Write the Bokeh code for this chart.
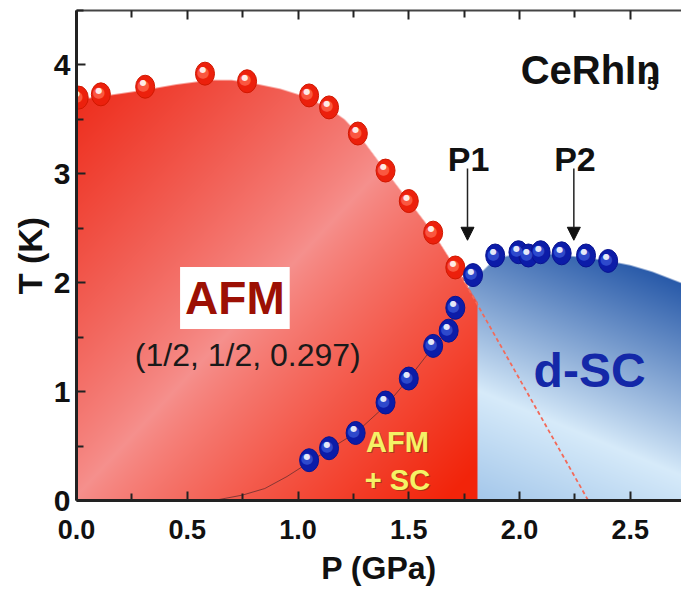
import numpy as np
from bokeh.plotting import figure
from bokeh.models import (Range1d, FixedTicker, LinearAxis, Label, Arrow, NormalHead,
                          ColumnDataSource, PrintfTickFormatter, CustomJSTickFormatter)
from bokeh.core.properties import value
from bokeh.embed import file_html
from bokeh.resources import INLINE

# ---------------- data ----------------
# AFM transition (red spheres)
afm_p = [0.01, 0.11, 0.31, 0.58, 0.77, 1.05, 1.14, 1.27, 1.395, 1.50, 1.61, 1.71]
afm_t = [3.70, 3.73, 3.80, 3.92, 3.85, 3.72, 3.61, 3.37, 3.03, 2.75, 2.46, 2.14]
# superconducting Tc above P1 (blue spheres, dome)
sc_p = [1.79, 1.89, 1.995, 2.04, 2.095, 2.19, 2.30, 2.40]
sc_t = [2.07, 2.25, 2.28, 2.25, 2.28, 2.27, 2.25, 2.20]
# superconducting Tc inside AFM (blue spheres, coexistence)
coex_p = [1.05, 1.14, 1.26, 1.395, 1.50, 1.61, 1.68, 1.71]
coex_t = [0.37, 0.48, 0.62, 0.90, 1.12, 1.42, 1.56, 1.77]
# guide line through coexistence Tc
guide_p = [0.62, 0.75, 0.85, 0.95, 1.05, 1.14, 1.26, 1.40, 1.50, 1.61, 1.68, 1.73]
guide_t = [0.00, 0.05, 0.11, 0.22, 0.35, 0.47, 0.62, 0.88, 1.12, 1.41, 1.57, 1.82]
# extrapolated AFM line (dashed)
dash_p = [1.74, 2.31]
dash_t = [2.05, 0.00]
# AFM phase boundary (red region top) and its right edge P1
afm_bound_p = [0.00, 0.11, 0.31, 0.45, 0.60, 0.70, 0.80, 0.92, 1.03, 1.14, 1.21, 1.27, 1.395, 1.50, 1.61, 1.71, 1.81]
afm_bound_t = [3.68, 3.71, 3.77, 3.82, 3.86, 3.86, 3.83, 3.78, 3.71, 3.60, 3.50, 3.37, 3.03, 2.75, 2.46, 2.14, 1.82]
afm_edge_p = 1.81
# d-SC region top
sc_bound_p = [1.70, 1.76, 1.80, 1.89, 2.00, 2.10, 2.20, 2.30, 2.40, 2.50, 2.60, 2.74]
sc_bound_t = [1.60, 1.93, 2.04, 2.22, 2.27, 2.27, 2.25, 2.23, 2.20, 2.16, 2.10, 1.99]
# P1 / P2 arrows
arrow_p = [1.765, 2.245]
arrow_t0 = [3.05, 3.05]
arrow_t1 = [2.39, 2.39]
arrow_names = ["P1", "P2"]

x_ticks = [0.0, 0.5, 1.0, 1.5, 2.0, 2.5]
x_minor = [0.25, 0.75, 1.25, 1.75, 2.25, 2.75]
y_ticks = [0, 1, 2, 3, 4]
y_minor = [0.5, 1.5, 2.5, 3.5, 4.5]

X_MAX, Y_MAX = 2.731, 4.5
FONT = "Liberation Sans"

p = figure(width=681, height=592, x_range=Range1d(0, X_MAX), y_range=Range1d(0, Y_MAX),
           output_backend="svg", toolbar_location=None,
           min_border_left=76, min_border_right=0, min_border_top=10, min_border_bottom=92)
p.outline_line_color = None
p.grid.visible = False
p.background_fill_color = "white"
p.border_fill_color = "white"

# ---------------- gradient filled regions ----------------
W, H = 605, 490
P = (np.arange(W) + 0.5) / W * X_MAX
T = (np.arange(H) + 0.5) / H * Y_MAX
PP, TT = np.meshgrid(P, T)
dP, dT = X_MAX / W, Y_MAX / H

# red region
rtop = np.interp(PP, afm_bound_p, afm_bound_t)
a_r = np.clip((rtop - TT) / dT + 0.5, 0, 1) * np.clip((afm_edge_p - PP) / dP + 0.5, 0, 1)
sx = PP * (W / X_MAX)
sy = TT * (H / Y_MAX)
d = ((sx - 61) * 250 - (sy - 70) * 233) / 341.7
f = np.clip(np.abs(d) / 275.0, 0, 1) ** 0.85
light = np.array([246, 145, 142])
dark1 = np.array([238, 45, 28])
dark2 = np.array([242, 36, 10])
dark = np.where((d < 0)[..., None], dark1, dark2)
red_rgb = light + (dark - light) * f[..., None]

# blue region
btop = np.interp(PP, sc_bound_p, sc_bound_t, left=-1, right=-1)
a_b = np.clip((btop - TT) / dT + 0.5, 0, 1)
v = ((sx - 414) * 75 + (sy - 105) * 180) / 195.0
bl = np.array([215, 235, 250])
bd = np.array([38, 88, 168])
bm = np.array([160, 196, 233])
tpos = np.clip(v / 180.0, 0, 1) ** 0.95
tneg = np.clip(-v / 110.0, 0, 1)
blue_rgb = np.where((v >= 0)[..., None],
                    bl + (bd - bl) * tpos[..., None],
                    bl + (bm - bl) * tneg[..., None])

alpha = a_r + a_b * (1 - a_r)
safe = np.where(alpha > 0, alpha, 1)
rgb = (red_rgb * a_r[..., None] + blue_rgb * (a_b * (1 - a_r))[..., None]) / safe[..., None]

img = np.zeros((H, W), dtype=np.uint32)
view = img.view(dtype=np.uint8).reshape((H, W, 4))
view[..., 0] = np.clip(rgb[..., 0], 0, 255).astype(np.uint8)
view[..., 1] = np.clip(rgb[..., 1], 0, 255).astype(np.uint8)
view[..., 2] = np.clip(rgb[..., 2], 0, 255).astype(np.uint8)
view[..., 3] = np.clip(alpha * 255, 0, 255).astype(np.uint8)
p.image_rgba(image=[img], x=0, y=0, dw=X_MAX, dh=Y_MAX)

# ---------------- lines ----------------
p.line(guide_p, guide_t, line_color="#6a3030", line_width=1, line_alpha=0.8)
p.line(dash_p, dash_t, line_color="#f26a5a", line_width=1.8, line_dash="4 3")

# ---------------- spheres ----------------
def spheres(xs, ys, base, mid, edge):
    src = ColumnDataSource(dict(x=xs, y=ys, s=["\u25cf"] * len(xs)))
    p.ellipse("x", "y", width=19, height=23, width_units="screen", height_units="screen",
              source=src, fill_color=base, line_color=edge, line_width=1)
    p.text("x", "y", text="s", source=src, text_color=mid, text_alpha=0.75,
           text_font_size="15px", text_align="center", text_baseline="middle",
           x_offset=-2, y_offset=-2, text_font=value("DejaVu Sans"))
    p.text("x", "y", text="s", source=src, text_color="white", text_alpha=0.9,
           text_font_size="8px", text_align="center", text_baseline="middle",
           x_offset=-2, y_offset=-4, text_font=value("DejaVu Sans"))

spheres(afm_p, afm_t, "#ec200c", "#ff6a52", "#d01800")
spheres(sc_p, sc_t, "#0c1ca8", "#3a58d8", "#0a1490")
spheres(coex_p, coex_t, "#0c1ca8", "#3a58d8", "#0a1490")

# ---------------- arrows ----------------
asrc = ColumnDataSource(dict(x=arrow_p, y0=arrow_t0, y1=arrow_t1))
p.add_layout(Arrow(x_start="x", y_start="y0", x_end="x", y_end="y1", source=asrc,
                   line_color="#222222", line_width=1.5,
                   end=NormalHead(size=13, fill_color="#111111", line_color="#111111")))
lsrc = ColumnDataSource(dict(x=[a + 0.005 for a in arrow_p], y=[3.14, 3.14], t=arrow_names))
p.text("x", "y", text="t", source=lsrc, text_font=value(FONT), text_font_style="bold",
       text_font_size="34px", text_align="center", text_baseline="alphabetic", text_color="#111111")

# ---------------- texts ----------------
p.add_layout(Label(x=2.005, y=3.95, text="CeRhIn", text_font=FONT, text_font_style="bold",
                   text_font_size="40px", text_color="#111111", text_baseline="alphabetic"))
p.add_layout(Label(x=2.575, y=3.83, text="5", text_font=FONT, text_font_style="bold",
                   text_font_size="19px", text_color="#111111", text_baseline="alphabetic"))
p.add_layout(Label(x=0.715, y=1.86, text="AFM", text_font=FONT, text_font_style="bold",
                   text_font_size="46px", text_color="#9c1004", text_align="center",
                   text_baseline="middle", background_fill_color="white", padding=5))
p.add_layout(Label(x=0.773, y=1.34, text="(1/2, 1/2, 0.297)", text_font=FONT,
                   text_font_size="32px", text_color="#1a1a1a", text_align="center",
                   text_baseline="middle"))
p.add_layout(Label(x=2.316, y=1.19, text="d-SC", text_font=FONT, text_font_style="bold",
                   text_font_size="48px", text_color="#1428a8", text_align="center",
                   text_baseline="middle"))
# shadow + yellow text for the coexistence label
p.add_layout(Label(x=1.449, y=0.36, text="AFM\n+ SC", text_font=FONT, text_font_style="bold",
                   text_font_size="29px", text_color="#6a3a10", text_alpha=0.55,
                   text_align="center", text_baseline="middle", x_offset=1, y_offset=-1))
p.add_layout(Label(x=1.449, y=0.36, text="AFM\n+ SC", text_font=FONT, text_font_style="bold",
                   text_font_size="29px", text_color="#f4f266", text_align="center",
                   text_baseline="middle"))

# ---------------- axes ----------------
def style(ax, ticks, minor):
    ax.ticker = FixedTicker(ticks=ticks, minor_ticks=minor)
    ax.major_tick_in = 9
    ax.major_tick_out = 0
    ax.minor_tick_in = 7
    ax.minor_tick_out = 0
    ax.major_tick_line_width = 2
    ax.minor_tick_line_width = 2
    ax.major_tick_line_color = "#222222"
    ax.minor_tick_line_color = "#222222"
    ax.axis_line_color = "#222222"

xa = p.xaxis[0]
style(xa, x_ticks, x_minor)
xa.axis_line_width = 3
xa.formatter = PrintfTickFormatter(format="%.1f")
xa.major_label_text_font = FONT
xa.major_label_text_font_style = "bold"
xa.major_label_text_font_size = "27px"
xa.major_label_text_color = "#111111"
xa.major_label_standoff = 19
xa.axis_label = "P (GPa)"
xa.axis_label_text_font = FONT
xa.axis_label_text_font_style = "bold"
xa.axis_label_text_font_size = "32px"
xa.axis_label_text_color = "#111111"
xa.axis_label_standoff = 8

ya = p.yaxis[0]
style(ya, y_ticks, y_minor)
ya.axis_line_width = 3
ya.major_label_text_font = FONT
ya.major_label_text_font_style = "bold"
ya.major_label_text_font_size = "30px"
ya.major_label_text_color = "#111111"
ya.major_label_standoff = 6
ya.axis_label = "T (K)"
ya.axis_label_text_font = FONT
ya.axis_label_text_font_style = "bold"
ya.axis_label_text_font_size = "34px"
ya.axis_label_text_color = "#111111"
ya.axis_label_standoff = 2

top = LinearAxis()
style(top, x_ticks, x_minor)
top.axis_line_width = 2
top.axis_line_color = "#444444"
top.formatter = CustomJSTickFormatter(code="return ''")
top.major_label_standoff = 0
p.add_layout(top, "above")

open("out.html", "w").write(file_html(p, INLINE))
